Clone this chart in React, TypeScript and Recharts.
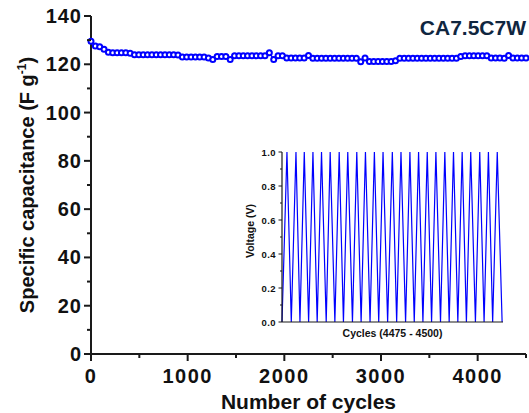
import { Line, LineChart, XAxis, YAxis } from "recharts";

const FONT = "Arial, 'Liberation Sans', sans-serif";
const AXIS = "#1a1a1a";
const BLUE = "#0000ff";

// main series: specific capacitance every 45 cycles
const cycles = [
  0, 45, 90, 135, 180, 225, 270, 315, 360, 405,
  450, 495, 540, 585, 630, 675, 720, 765, 810, 855,
  900, 945, 990, 1035, 1080, 1125, 1170, 1215, 1260, 1305,
  1350, 1395, 1440, 1485, 1530, 1575, 1620, 1665, 1710, 1755,
  1800, 1845, 1890, 1935, 1980, 2025, 2070, 2115, 2160, 2205,
  2250, 2295, 2340, 2385, 2430, 2475, 2520, 2565, 2610, 2655,
  2700, 2745, 2790, 2835, 2880, 2925, 2970, 3015, 3060, 3105,
  3150, 3195, 3240, 3285, 3330, 3375, 3420, 3465, 3510, 3555,
  3600, 3645, 3690, 3735, 3780, 3825, 3870, 3915, 3960, 4005,
  4050, 4095, 4140, 4185, 4230, 4275, 4320, 4365, 4410, 4455,
  4500
];
const capacitance = [
  129.5, 127.6, 127.3, 126.2, 125.0, 124.8, 124.8, 124.8, 124.8, 124.6,
  123.9, 123.9, 123.9, 123.9, 123.9, 123.9, 123.9, 123.9, 123.9, 123.9,
  123.8, 123.0, 123.0, 123.0, 123.0, 123.0, 123.0, 122.6, 122.0, 123.2,
  123.2, 123.2, 122.0, 123.5, 123.5, 123.5, 123.5, 123.5, 123.5, 123.5,
  123.5, 124.8, 122.0, 123.5, 123.5, 122.6, 122.6, 122.6, 122.6, 122.6,
  123.6, 122.5, 122.5, 122.5, 122.5, 122.5, 122.5, 122.5, 122.5, 122.5,
  122.5, 122.5, 121.0, 122.6, 121.2, 121.2, 121.2, 121.2, 121.2, 121.2,
  121.5, 122.5, 122.5, 122.5, 122.5, 122.5, 122.5, 122.5, 122.5, 122.5,
  122.5, 122.5, 122.5, 122.5, 122.5, 123.2, 123.5, 123.5, 123.5, 123.5,
  123.5, 123.5, 122.6, 122.6, 122.6, 122.5, 123.6, 122.6, 122.6, 122.6,
  122.6
];
const xTicks = [0, 500, 1000, 1500, 2000, 2500, 3000, 3500, 4000, 4500];
const xLabelled = [0, 1000, 2000, 3000, 4000];
const yTicks = [0, 10, 20, 30, 40, 50, 60, 70, 80, 90, 100, 110, 120, 130, 140];
const yLabelled = [0, 20, 40, 60, 80, 100, 120, 140];

// inset: galvanostatic charge/discharge, cycles 4475 - 4500
const insetCycles = [
  4475.0, 4475.56, 4476.05, 4476.58, 4477.03, 4477.52, 4478.01, 4478.5, 4478.98, 4479.47,
  4480.0, 4480.45, 4480.98, 4481.47, 4481.95, 4482.44, 4482.97, 4483.46, 4483.95, 4484.44,
  4484.96, 4485.45, 4485.94, 4486.43, 4486.95, 4487.48, 4487.97, 4488.46, 4488.98, 4489.47,
  4489.96, 4490.45, 4490.94, 4491.43, 4491.92, 4492.41, 4492.93, 4493.42, 4493.91, 4494.4,
  4494.89, 4495.38, 4495.86, 4496.35, 4496.88, 4497.37, 4497.86, 4498.35, 4498.83, 4499.35,
  4499.9
];
const insetVoltage = [
  0, 1, 0, 1, 0, 1, 0, 1, 0, 1,
  0, 1, 0, 1, 0, 1, 0, 1, 0, 1,
  0, 1, 0, 1, 0, 1, 0, 1, 0, 1,
  0, 1, 0, 1, 0, 1, 0, 1, 0, 1,
  0, 1, 0, 1, 0, 1, 0, 1, 0, 1,
  0
];
const insetYTicks = [0, 0.1, 0.2, 0.3, 0.4, 0.5, 0.6, 0.7, 0.8, 0.9, 1.0];
const insetYLabelled = [0, 0.2, 0.4, 0.6, 0.8, 1.0];

const capData = cycles.map((c, i) => ({ cycle: c, cap: capacitance[i] }));
const insetData = insetCycles.map((c, i) => ({ cycle: c, v: insetVoltage[i] }));

const MainXTick = ({ x, y, payload }: any) => {
  const major = xLabelled.includes(payload.value);
  return (
    <g>
      <line x1={x} x2={x} y1={y} y2={y + (major ? 7 : 4)} stroke={AXIS} strokeWidth={2} />
      {major && (
        <text x={x} y={y + 29} textAnchor="middle" fill="#111" fontFamily={FONT} fontWeight={700} fontSize={20} letterSpacing={1.5}>
          {payload.value}
        </text>
      )}
    </g>
  );
};

const MainYTick = ({ x, y, payload }: any) => {
  const major = yLabelled.includes(payload.value);
  return (
    <g>
      <line x1={x} x2={x - (major ? 7 : 4)} y1={y} y2={y} stroke={AXIS} strokeWidth={2} />
      {major && (
        <text x={x - 9} y={y + 7} textAnchor="end" fill="#111" fontFamily={FONT} fontWeight={700} fontSize={20} letterSpacing={1}>
          {payload.value}
        </text>
      )}
    </g>
  );
};

const InsetYTick = ({ x, y, payload }: any) => {
  const major = insetYLabelled.some((t) => Math.abs(t - payload.value) < 1e-6);
  return (
    <g>
      <line x1={x} x2={x - (major ? 3.5 : 2)} y1={y} y2={y} stroke={AXIS} strokeWidth={1} />
      {major && (
        <text x={x - 6} y={y + 3.5} textAnchor="end" fill="#111" fontFamily={FONT} fontWeight={700} fontSize={9.5} letterSpacing={0.4}>
          {payload.value.toFixed(1)}
        </text>
      )}
    </g>
  );
};

const MainYLabel = (props: any) => {
  const vb = props.viewBox || { x: 31, y: 16, width: 60, height: 338 };
  const cx = vb.x + 3;
  const cy = vb.y + vb.height / 2;
  return (
    <text transform={`translate(${cx},${cy}) rotate(-90)`} textAnchor="middle" fill="#111" fontFamily={FONT} fontWeight={700} fontSize={20}>
      Specific capacitance (F g<tspan dy={-8} fontSize={12}>-1</tspan>
      <tspan dy={8}>)</tspan>
    </text>
  );
};

const MainXLabel = (props: any) => {
  const vb = props.viewBox || { x: 91, y: 354, width: 435, height: 40 };
  return (
    <text x={vb.x + vb.width / 2} y={vb.y + 55} textAnchor="middle" fill="#111" fontFamily={FONT} fontWeight={700} fontSize={21}>
      Number of cycles
    </text>
  );
};

const InsetYLabel = (props: any) => {
  const vb = props.viewBox || { x: 252, y: 152, width: 30, height: 170 };
  return (
    <text transform={`translate(${vb.x + 2},${vb.y + vb.height / 2 - 6}) rotate(-90)`} textAnchor="middle" fill="#111" fontFamily={FONT} fontWeight={700} fontSize={10.5}>
      Voltage (V)
    </text>
  );
};

const InsetXLabel = (props: any) => {
  const vb = props.viewBox || { x: 282, y: 322, width: 221, height: 18 };
  return (
    <text x={vb.x + vb.width / 2} y={vb.y + 14.5} textAnchor="middle" fill="#111" fontFamily={FONT} fontWeight={700} fontSize={10.5}>
      Cycles (4475 - 4500)
    </text>
  );
};

export default function App() {
  return (
    <div style={{ position: "absolute", left: 0, top: 0, width: 529, height: 413, background: "#fff" }}>
      <LineChart width={529} height={413} data={capData} margin={{ top: 16, right: 3, bottom: 19, left: 31 }}>
        <XAxis
          dataKey="cycle"
          type="number"
          domain={[0, 4500]}
          ticks={xTicks}
          interval={0}
          height={40}
          tickSize={0}
          tickMargin={0}
          tickLine={false}
          tick={(p: any) => <MainXTick {...p} />}
          axisLine={{ stroke: AXIS, strokeWidth: 2 }}
          label={{ content: MainXLabel }}
        />
        <XAxis xAxisId="top" orientation="top" type="number" domain={[0, 4500]} height={0} tick={false} tickLine={false} axisLine={{ stroke: AXIS, strokeWidth: 2 }} />
        <YAxis
          type="number"
          domain={[0, 140]}
          ticks={yTicks}
          interval={0}
          width={60}
          tickSize={0}
          tickMargin={0}
          tickLine={false}
          tick={(p: any) => <MainYTick {...p} />}
          axisLine={{ stroke: AXIS, strokeWidth: 2 }}
          label={{ content: MainYLabel }}
        />
        <YAxis yAxisId="right" orientation="right" type="number" domain={[0, 140]} width={0} tick={false} tickLine={false} axisLine={{ stroke: AXIS, strokeWidth: 2 }} />
        <Line
          type="linear"
          dataKey="cap"
          stroke={BLUE}
          strokeWidth={1.5}
          dot={{ r: 2.5, stroke: BLUE, strokeWidth: 2, fill: "#fff" }}
          isAnimationActive={false}
        />
      </LineChart>

      <div
        style={{
          position: "absolute",
          right: 3,
          top: 17,
          fontFamily: FONT,
          fontWeight: 700,
          fontSize: 21,
          lineHeight: "22px",
          color: "#10263f",
        }}
      >
        CA7.5C7W
      </div>

      <div style={{ position: "absolute", left: 230, top: 140 }}>
        <LineChart width={300} height={200} data={insetData} margin={{ top: 12, right: 27, bottom: 0, left: 22 }}>
          <XAxis
            dataKey="cycle"
            type="number"
            domain={[4475, 4500]}
            height={18}
            tick={false}
            tickLine={false}
            axisLine={{ stroke: AXIS, strokeWidth: 1.2 }}
            label={{ content: InsetXLabel }}
          />
          <XAxis xAxisId="top" orientation="top" type="number" domain={[4475, 4500]} height={0} tick={false} tickLine={false} axisLine={{ stroke: AXIS, strokeWidth: 1.2 }} />
          <YAxis
            type="number"
            domain={[0, 1]}
            ticks={insetYTicks}
            interval={0}
            width={30}
            tickSize={0}
            tickMargin={0}
            tickLine={false}
            tick={(p: any) => <InsetYTick {...p} />}
            axisLine={{ stroke: AXIS, strokeWidth: 1.2 }}
            label={{ content: InsetYLabel }}
          />
          <YAxis yAxisId="right" orientation="right" type="number" domain={[0, 1]} width={0} tick={false} tickLine={false} axisLine={{ stroke: AXIS, strokeWidth: 1.2 }} />
          <Line type="linear" dataKey="v" stroke={BLUE} strokeWidth={1.2} dot={false} isAnimationActive={false} />
        </LineChart>
      </div>
    </div>
  );
}
